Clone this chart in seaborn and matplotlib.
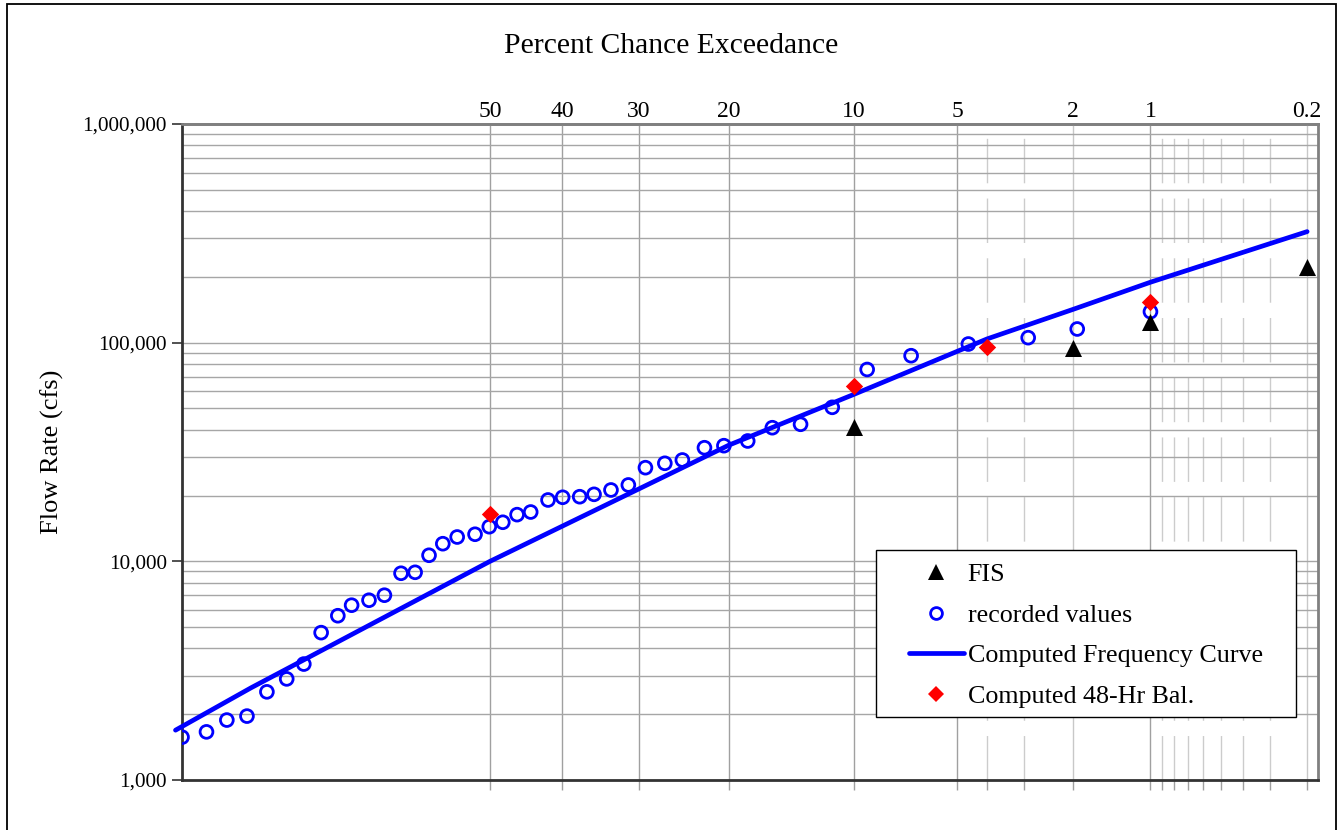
import numpy as np
import pandas as pd
import matplotlib
matplotlib.use('Agg')
import matplotlib.pyplot as plt
from matplotlib.patches import Rectangle
from matplotlib.lines import Line2D
from matplotlib.ticker import LogLocator, FuncFormatter, NullFormatter, FixedLocator
import seaborn as sns
from statistics import NormalDist

# recorded values: percent chance exceedance and flow (cfs)
recorded_pct = [86.1, 84.1, 82.3, 80.4, 78.4, 76.3, 74.4, 72.4, 70.4, 68.7,
                66.5, 64.5, 62.3, 60.4, 58.5, 56.6, 54.6, 52.1, 50.1, 48.2,
                46.2, 44.3, 41.9, 39.9, 37.6, 35.7, 33.5, 31.3, 29.2, 26.9,
                24.9, 22.5, 20.5, 18.2, 16.0, 13.7, 11.4, 9.2, 6.9, 4.6,
                2.9, 1.93, 1.0]
recorded_cfs = [1570, 1660, 1880, 1960, 2530, 2900, 3390, 4720, 5640, 6300,
                6640, 7000, 8820, 8910, 10660, 12040, 12920, 13300, 14400, 15090,
                16350, 16810, 19080, 19630, 19750, 20250, 21200, 22350, 26810, 28080,
                29070, 33080, 33800, 35510, 40840, 42340, 50620, 75400, 87170, 98600,
                105400, 115500, 138600]

# computed frequency curve
curve_pct = [86.6, 80, 50, 20, 10, 4, 2, 1, 0.2]
curve_cfs = [1690, 2640, 10000, 34000, 58000, 104000, 142000, 189000, 322000]

# FIS values
fis_pct = [10, 2, 1, 0.2]
fis_cfs = [41300, 94800, 124700, 222600]

# computed 48-hr balanced storm
bal_pct = [50, 10, 4, 1]
bal_cfs = [16400, 63200, 95500, 153900]

# probability axis ticks
major_pct = [50, 40, 30, 20, 10, 5, 2, 1, 0.2]
minor_pct = [4, 3, 0.9, 0.8, 0.7, 0.6, 0.5, 0.4, 0.3]


def to_z(pct):
    # normal probability scale: standard normal deviate of non-exceedance
    nd = NormalDist()
    return [nd.inv_cdf(1 - p / 100.0) for p in pct]


def main():
    sns.set_style('white')
    plt.rcParams['font.family'] = ['Liberation Serif', 'DejaVu Serif']
    plt.rcParams['text.color'] = 'black'
    plt.rcParams['xtick.labelcolor'] = 'black'
    plt.rcParams['ytick.labelcolor'] = 'black'

    rec = pd.DataFrame({'z': to_z(recorded_pct), 'cfs': recorded_cfs})
    curve = pd.DataFrame({'z': to_z(curve_pct), 'cfs': curve_cfs})
    fis = pd.DataFrame({'z': to_z(fis_pct), 'cfs': fis_cfs})
    bal = pd.DataFrame({'z': to_z(bal_pct), 'cfs': bal_cfs})

    W, H = 1341, 830
    fig = plt.figure(figsize=(W / 100, H / 100), dpi=100)
    ax = fig.add_axes([182 / W, 1 - 780 / H, 1136 / W, 656 / H])

    ax.set_yscale('log')
    ax.set_ylim(1000, 1000000)
    zl = to_z([86.1, 0.177])
    ax.set_xlim(zl[0], zl[1])

    # grid
    ax.yaxis.set_major_locator(LogLocator(base=10))
    ax.yaxis.set_minor_locator(LogLocator(base=10, subs=np.arange(2, 10)))
    ax.yaxis.set_major_formatter(FuncFormatter(lambda v, _: f'{v:,.0f}'))
    ax.yaxis.set_minor_formatter(NullFormatter())
    ax.grid(True, axis='y', which='both', color='#a6a6a6', lw=1.0, zorder=0)

    for p, z in zip(major_pct, to_z(major_pct)):
        c = '#c8c8c8' if p in (2, 0.2) else '#a0a0a0'
        ax.axvline(z, color=c, lw=1.0, zorder=0.5)
    for z in to_z(minor_pct):
        ax.axvline(z, color='#cccccc', lw=1.0, dashes=(32, 11), zorder=0.5)

    # data
    sns.lineplot(data=curve, x='z', y='cfs', color='#0000ff', lw=3.4,
                 sort=False, clip_on=False, zorder=3, ax=ax)
    sns.scatterplot(data=rec, x='z', y='cfs', marker='o', s=85,
                    facecolor='none', edgecolor='#0000ff', linewidth=2.0,
                    zorder=4, ax=ax)
    sns.scatterplot(data=fis, x='z', y='cfs', marker='^', s=150,
                    color='black', linewidth=0, zorder=5, ax=ax)
    sns.scatterplot(data=bal, x='z', y='cfs', marker='D', s=78,
                    color='#ff0000', linewidth=0, zorder=6, ax=ax)

    ax.set_xlabel('')
    ax.set_ylabel('')

    # bottom: tick marks only; top: percent labels
    all_z = to_z(major_pct + minor_pct)
    ax.xaxis.set_major_locator(FixedLocator(all_z))
    ax.xaxis.set_minor_locator(FixedLocator([]))
    ax.tick_params(axis='x', which='major', bottom=True, top=False,
                   labelbottom=False, length=7, width=1, color='#a0a0a0')
    ax.tick_params(axis='y', which='major', left=True, length=7, width=1.2,
                   color='#333333', labelsize=15.2, pad=4, labelcolor='black')
    ax.tick_params(axis='y', which='minor', left=False, length=0)

    sec = ax.secondary_xaxis('top')
    sec.set_xticks(to_z(major_pct), labels=[f'{p:g}' for p in major_pct])
    sec.tick_params(length=0, pad=1.5, labelsize=17, labelcolor='black')
    sec.spines['top'].set_color('#808080')
    sec.spines['top'].set_linewidth(2)

    for side in ('left', 'bottom'):
        ax.spines[side].set_color('#333333')
        ax.spines[side].set_linewidth(2)
    for side in ('top', 'right'):
        ax.spines[side].set_color('#808080')
        ax.spines[side].set_linewidth(2)

    fig.text(671 / W, 1 - 46 / H, 'Percent Chance Exceedance',
             ha='center', va='center', fontsize=21.3, color='black')
    fig.text(52 / W, 1 - 452 / H, 'Flow Rate (cfs)', rotation=90,
             ha='center', va='center', fontsize=19, color='black')

    handles = [
        Line2D([], [], ls='none', marker='^', ms=12, color='black', mew=0),
        Line2D([], [], ls='none', marker='o', ms=8.5, mfc='none', mec='#0000ff', mew=2.0),
        Line2D([], [], color='#0000ff', lw=3.4),
        Line2D([], [], ls='none', marker='D', ms=8.5, color='#ff0000', mew=0),
    ]
    labels = ['FIS', 'recorded values', 'Computed Frequency Curve',
              'Computed 48-Hr Bal.']
    leg = ax.legend(handles, labels, loc='upper left',
                    bbox_to_anchor=((900 - 182) / 1136, (780 - 554) / 656),
                    fontsize=18.7, frameon=False, borderpad=0.35,
                    labelspacing=0.665, handlelength=2.1, handletextpad=0.15,
                    borderaxespad=0)
    for t in leg.get_texts():
        t.set_color('black')
    leg.set_zorder(10)

    # legend box: wider side margins than the legend's own frame allows
    fig.canvas.draw()
    bb = leg.get_window_extent()
    (x0, y0), (x1, y1) = fig.transFigure.inverted().transform(
        [(bb.x0 - 24, bb.y0), (bb.x1 + 24, bb.y1 + 4)])
    ax.add_patch(Rectangle((x0, y0), x1 - x0, y1 - y0, transform=fig.transFigure,
                           facecolor='white', edgecolor='black', lw=1.0,
                           zorder=9, clip_on=False))

    fig.add_artist(Rectangle((7 / W, -0.05), 1329 / W, 1.05 - 4 / H,
                             transform=fig.transFigure, fill=False,
                             ec='black', lw=1.3))

    fig.savefig('out.png', dpi=100)
    plt.close(fig)


if __name__ == '__main__':
    main()
